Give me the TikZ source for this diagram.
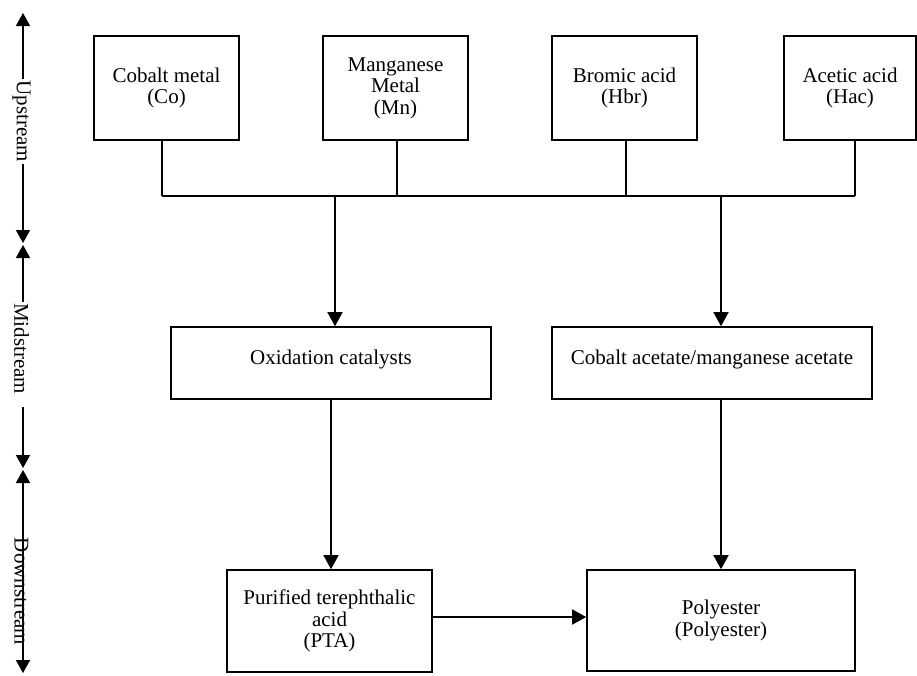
\documentclass[tikz,border=0pt]{standalone}
\usepackage{fontspec}
\setmainfont{Liberation Serif}
\usetikzlibrary{arrows.meta,calc}
\begin{document}
\begin{tikzpicture}[x=1pt,y=-1pt,line width=1.6pt,
  txt/.style={font=\fontsize{21}{21.5}\selectfont},
  box/.style={draw,line width=1.6pt,inner sep=2pt,align=center,txt},
  upbox/.style={box,minimum width=145pt,minimum height=104pt},
  midbox/.style={box,minimum width=320pt,minimum height=72pt,text depth=12pt},
  arr/.style={-{Triangle[length=14pt,width=15pt]}},
  dblarr/.style={{Triangle[length=13pt,width=14pt]}-{Triangle[length=13pt,width=14pt]}},
  sidearr/.style={-{Triangle[length=13pt,width=14pt]}},
  lbl/.style={rotate=-90,inner sep=0.5pt,txt}]
\useasboundingbox (0,0) rectangle (917,675);

% upstream boxes
\node[upbox] (co) at (166.5,88) {Cobalt metal\\(Co)};
\node[upbox] (mn) at (395.5,88) {Manganese\\Metal\\(Mn)};
\node[upbox] (hb) at (624.5,88) {Bromic acid\\(Hbr)};
\node[box,minimum width=132pt,minimum height=104pt] (ha) at (850,88) {Acetic acid\\(Hac)};

% midstream boxes
\node[midbox] (ox) at (331,363) {Oxidation catalysts};
\node[midbox] (ca) at (712,363) {Cobalt acetate/manganese acetate};

% downstream boxes
\node[box,minimum width=205pt,minimum height=102pt] (pta) at (329.5,621) {Purified terephthalic\\acid\\(PTA)};
\node[box,minimum width=268pt,minimum height=101pt] (po) at (721,620.5) {Polyester\\(Polyester)};

% bus
\coordinate (b1) at (162,196);
\coordinate (b2) at (397,196);
\coordinate (b3) at (626,196);
\coordinate (b4) at (855,196);
\coordinate (t1) at (335,196);
\coordinate (t2) at (721,196);
\draw (co.south -| b1) -- (b1);
\draw (mn.south -| b2) -- (b2);
\draw (hb.south -| b3) -- (b3);
\draw (ha.south -| b4) -- (b4);
\draw (b1) -- (b4);
\draw[arr] (t1) -- (ox.north -| t1);
\draw[arr] (t2) -- (ca.north -| t2);

\draw[arr] (ox.south) -- (ox.south |- pta.north);
\draw[arr] (po.north |- ca.south) -- (po.north);
\draw[arr] ([yshift=4pt]pta.east) -- ([yshift=4pt]pta.east -| po.west);

% side labels
\coordinate (uT) at (23,13);
\coordinate (uB) at (23,243);
\node[lbl] (up) at (21.5,121.5) {Upstream};
\draw[sidearr] (up.west -| uT) -- (uT);
\draw[sidearr] (up.east -| uB) -- (uB);

\coordinate (mT) at (23,245);
\coordinate (mB) at (23,468);
\node[lbl] (mid) at (21.5,348.5) {Midstream};
\draw[sidearr] (mid.west -| mT) -- (mT);
\draw[sidearr] ([yshift=-12pt]mid.east -| mB) -- (mB);

\coordinate (dT) at (23,470);
\coordinate (dB) at (23,673);
\draw[dblarr] (dT) -- (dB);
\node[lbl] (down) at (21.5,591.5) {Downstream};
\end{tikzpicture}
\end{document}
